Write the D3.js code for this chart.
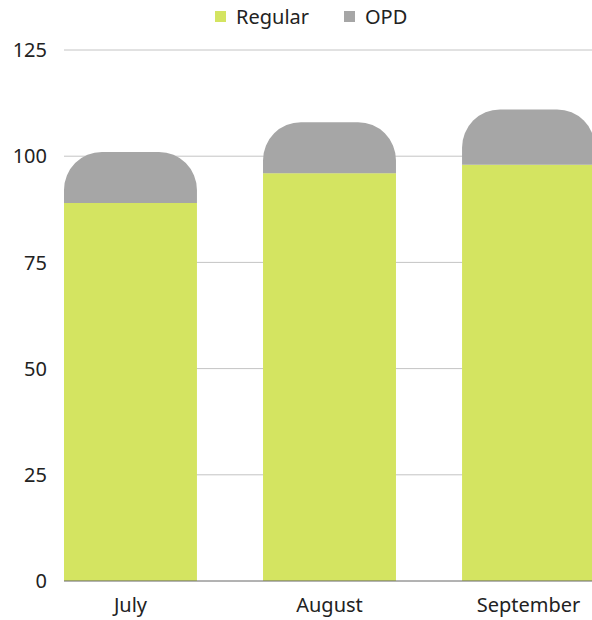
<!DOCTYPE html>
<html>
<head>
<meta charset="utf-8">
<script src="https://cdn.jsdelivr.net/npm/d3@7"></script>
<style>
  body { margin: 0; background: #fff; }
  svg { display: block; font-family: "Noto Sans", "Open Sans", sans-serif; }
</style>
</head>
<body>
<div id="chart"></div>
<script>
const months = ['July', 'August', 'September'];
const regular = [89, 96, 98];
const opd = [12, 12, 13];
const yTicks = [0, 25, 50, 75, 100, 125];

const width = 592, height = 620;
const svg = d3.select('#chart').append('svg')
    .attr('width', width)
    .attr('height', height);

const y = d3.scaleLinear().domain([0, 125]).range([581, 50]);
const x = d3.scaleBand().domain(months).range([64, 595]).paddingInner(0.332).paddingOuter(0);

// gridlines
svg.append('g')
    .selectAll('line')
    .data(yTicks.filter(d => d > 0))
    .enter()
    .append('line')
    .attr('x1', 64).attr('x2', width)
    .attr('y1', d => y(d)).attr('y2', d => y(d))
    .attr('stroke', '#c4c4c4')
    .attr('stroke-width', 1);

// y tick labels
svg.append('g')
    .selectAll('text')
    .data(yTicks)
    .enter()
    .append('text')
    .attr('x', 47)
    .attr('y', d => y(d))
    .attr('dy', '0.36em')
    .attr('text-anchor', 'end')
    .attr('font-size', '20px')
    .attr('fill', '#222')
    .text(d => d);

// rounded-top path
function topRounded(x0, y0, w, h, r) {
    r = Math.min(r, h, w / 2);
    return `M${x0},${y0 + h}V${y0 + r}A${r},${r} 0 0 1 ${x0 + r},${y0}` +
        `H${x0 + w - r}A${r},${r} 0 0 1 ${x0 + w},${y0 + r}V${y0 + h}Z`;
}

const bars = svg.append('g');
months.forEach((m, i) => {
    bars.append('rect')
        .attr('x', x(m))
        .attr('y', y(regular[i]))
        .attr('width', x.bandwidth())
        .attr('height', y(0) - y(regular[i]))
        .attr('fill', '#d4e461');
    const top = y(regular[i] + opd[i]);
    bars.append('path')
        .attr('d', topRounded(x(m), top, x.bandwidth(), y(regular[i]) - top, 38))
        .attr('fill', '#a6a6a6');
});

// baseline
svg.append('line')
    .attr('x1', 64).attr('x2', width)
    .attr('y1', y(0)).attr('y2', y(0))
    .attr('stroke', '#666')
    .attr('stroke-width', 1);

// x labels
svg.append('g')
    .selectAll('text')
    .data(months)
    .enter()
    .append('text')
    .attr('x', d => x(d) + x.bandwidth() / 2)
    .attr('y', 605)
    .attr('dy', '0.36em')
    .attr('text-anchor', 'middle')
    .attr('font-size', '20px')
    .attr('fill', '#222')
    .text(d => d);

// legend
const legend = [
    { name: 'Regular', color: '#d4e461', x: 215 },
    { name: 'OPD', color: '#a6a6a6', x: 344 }
];
const lg = svg.append('g');
legend.forEach(l => {
    lg.append('rect')
        .attr('x', l.x).attr('y', 11)
        .attr('width', 11).attr('height', 11)
        .attr('fill', l.color);
    lg.append('text')
        .attr('x', l.x + 21).attr('y', 17)
        .attr('dy', '0.36em')
        .attr('font-size', '20px')
        .attr('fill', '#222')
        .text(l.name);
});
</script>
</body>
</html>
